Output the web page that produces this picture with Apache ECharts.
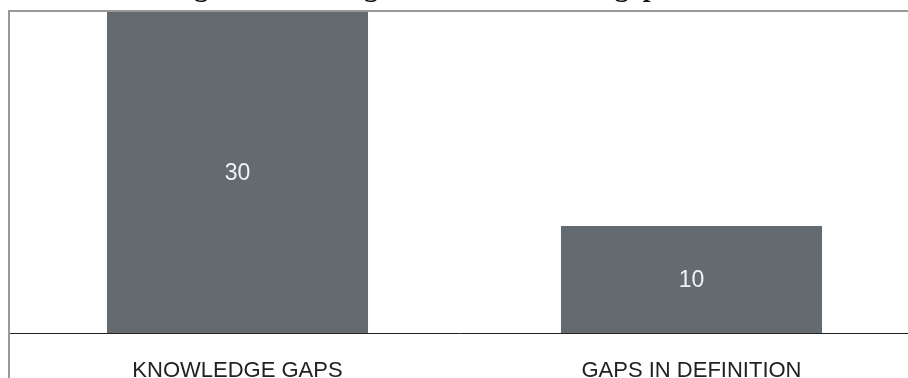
<!DOCTYPE html>
<html>
<head>
<meta charset="utf-8">
<script src="https://cdn.jsdelivr.net/npm/echarts@6/dist/echarts.min.js"></script>
<style>
html,body{margin:0;padding:0;background:#fff;}
#chart{width:908px;height:378px;}
</style>
</head>
<body>
<div id="chart"></div>
<script>
const categories = ['KNOWLEDGE GAPS', 'GAPS IN DEFINITION'];
const values = [30, 10];
const titleText = 'Knowledge and defining: the main research gaps';

const chart = echarts.init(document.getElementById('chart'), null, {renderer: 'canvas'});
chart.setOption({
  animation: false,
  title: {
    text: titleText,
    left: 82,
    top: -30,
    textStyle: {fontFamily: 'Liberation Serif', fontWeight: 'bold', fontSize: 28, color: '#111', lineHeight: 28}
  },
  graphic: [{
    type: 'rect',
    shape: {x: 9, y: 11, width: 1200, height: 1200},
    style: {fill: 'none', stroke: '#999', lineWidth: 2},
    z: 100,
    silent: true
  }],
  grid: {left: 10.5, width: 908, top: 12, bottom: 45, containLabel: false, outerBoundsMode: 'none'},
  xAxis: {
    type: 'category',
    data: categories,
    axisLine: {show: true, lineStyle: {color: '#222', width: 1}},
    axisTick: {show: false},
    axisLabel: {margin: 27, fontFamily: 'Liberation Sans', fontSize: 22, color: '#222'}
  },
  yAxis: {
    type: 'value',
    min: 0,
    max: 30,
    show: false,
    splitLine: {show: false}
  },
  series: [{
    type: 'bar',
    data: values,
    barWidth: '57.5%',
    itemStyle: {color: '#636a70'},
    label: {
      show: true,
      position: 'inside',
      fontFamily: 'Liberation Sans',
      fontSize: 23,
      color: '#f2f2f2',
      offset: [0, 1]
    }
  }]
});
</script>
</body>
</html>
